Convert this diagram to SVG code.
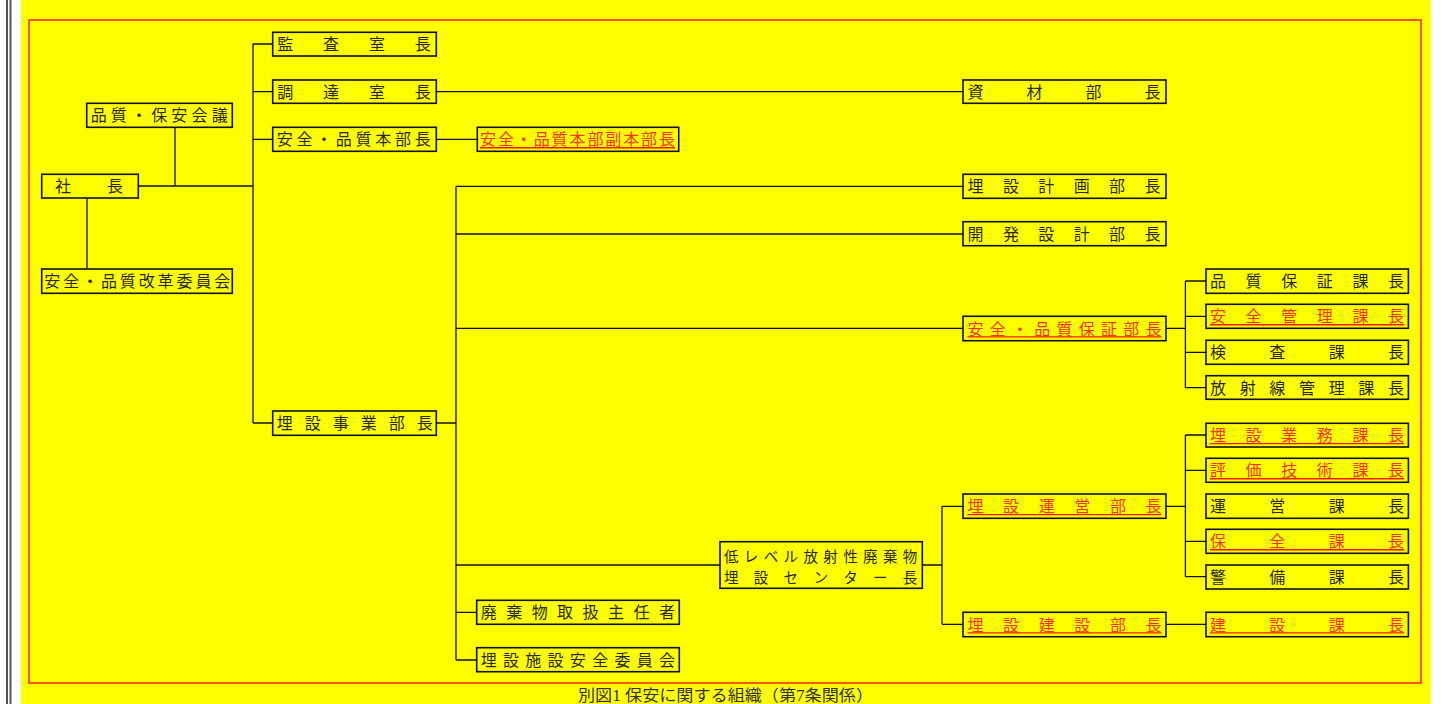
<svg xmlns="http://www.w3.org/2000/svg" width="1447" height="704" viewBox="0 0 1447 704">
<style>
.box{fill:#ffff00;stroke:#111;stroke-width:1.6}
.t{font-family:"Noto Sans CJK JP","Noto Sans CJK SC",sans-serif;font-size:16px;fill:#2a2a10}
.s{font-size:14.5px}
.r{fill:#ff3300}
.u{stroke:#ff1a00;stroke-width:1.4}
.c{stroke:#111;stroke-width:1.3;fill:none}
.cap{font-family:"Liberation Serif","Noto Sans CJK JP",serif;font-size:16px;fill:#333}
</style>
<rect x="0" y="0" width="1447" height="704" fill="#ffffff"/>
<line x1="7" y1="0" x2="7" y2="704" stroke="#555" stroke-width="2"/>
<line x1="10.5" y1="0" x2="10.5" y2="704" stroke="#555" stroke-width="2"/>
<rect x="21" y="0" width="1410" height="704" fill="#ffff00"/>
<rect x="29" y="20" width="1392" height="663" fill="none" stroke="#ff2000" stroke-width="1.5"/>

<g id="connectors">
<path class="c" d="M175,127.3V186M138.3,186H253M87,198V269"/>
<path class="c" d="M253,44V423M253,44H272.7M253,91.7H272.7M253,139.3H272.7M253,423H272.7"/>
<path class="c" d="M436.3,91.7H963M436.3,139.3H477.3M436.3,423H456"/>
<path class="c" d="M456,186.3V660M456,186.3H963M456,234H963M456,328.3H963M456,565H720M456,612.3H476.7M456,660H476.7"/>
<path class="c" d="M922.3,565H942M942,506.3V624.3M942,506.3H963M942,624.3H963"/>
<path class="c" d="M1166,328.3H1185.4M1185.4,281V387.7M1185.4,281H1206M1185.4,316.3H1206M1185.4,352.3H1206M1185.4,387.7H1206"/>
<path class="c" d="M1166,506.3H1185.4M1185.4,435V576.7M1185.4,435H1206M1185.4,470.3H1206M1185.4,541.3H1206M1185.4,576.7H1206"/>
<path class="c" d="M1166,624.3H1206"/>
</g>

<g id="n-shacho"><rect class="box" x="41.7" y="174.3" width="96.6" height="23.7"/><text class="t" x="55" y="192.2" textLength="68" lengthAdjust="spacing">社長</text></g>
<g id="n-kaigi"><rect class="box" x="86.7" y="103.3" width="145.6" height="24"/><text class="t" x="90.7" y="121.3" textLength="137" lengthAdjust="spacing">品質・保安会議</text></g>
<g id="n-kaikaku"><rect class="box" x="41.7" y="269" width="190.6" height="24.3"/><text class="t" x="44.3" y="287.2" textLength="186" lengthAdjust="spacing">安全・品質改革委員会</text></g>

<g id="n-kansa"><rect class="box" x="272.7" y="32.3" width="163.6" height="23.7"/><text class="t" x="277.3" y="50.2" textLength="153.4" lengthAdjust="spacing">監査室長</text></g>
<g id="n-chotatsu"><rect class="box" x="272.7" y="80" width="163.6" height="23.3"/><text class="t" x="277.3" y="97.7" textLength="153.4" lengthAdjust="spacing">調達室長</text></g>
<g id="n-honbu"><rect class="box" x="272.7" y="127.3" width="163.6" height="24"/><text class="t" x="276.7" y="145.3" textLength="154" lengthAdjust="spacing">安全・品質本部長</text></g>
<g id="n-fukuhonbu"><rect class="box" x="477.3" y="127.3" width="201.4" height="24"/><text class="t r" x="480" y="145.3" textLength="195" lengthAdjust="spacing">安全・品質本部副本部長</text><line class="u" x1="480" y1="147.7" x2="675" y2="147.7"/></g>
<g id="n-jigyo"><rect class="box" x="272.7" y="411" width="163.6" height="24.3"/><text class="t" x="276.7" y="429.2" textLength="156" lengthAdjust="spacing">埋設事業部長</text></g>

<g id="n-shizai"><rect class="box" x="963" y="80" width="203" height="23.3"/><text class="t" x="967.5" y="97.7" textLength="193" lengthAdjust="spacing">資材部長</text></g>
<g id="n-keikaku"><rect class="box" x="963" y="174.3" width="203" height="24"/><text class="t" x="967.5" y="192.3" textLength="193" lengthAdjust="spacing">埋設計画部長</text></g>
<g id="n-kaihatsu"><rect class="box" x="963" y="221.7" width="203" height="24"/><text class="t" x="967.5" y="239.7" textLength="193" lengthAdjust="spacing">開発設計部長</text></g>
<g id="n-hosho"><rect class="box" x="963" y="316.3" width="203" height="24.4"/><text class="t r" x="967.5" y="334.5" textLength="194" lengthAdjust="spacing">安全・品質保証部長</text><line class="u" x1="967.5" y1="336.9" x2="1161.5" y2="336.9"/></g>

<g id="n-hinshitsu"><rect class="box" x="1206" y="269" width="202.4" height="24.3"/><text class="t" x="1210" y="287.2" textLength="194" lengthAdjust="spacing">品質保証課長</text></g>
<g id="n-anzen"><rect class="box" x="1206" y="304.3" width="202.4" height="24"/><text class="t r" x="1210" y="322.3" textLength="194" lengthAdjust="spacing">安全管理課長</text><line class="u" x1="1210" y1="324.7" x2="1404" y2="324.7"/></g>
<g id="n-kensa"><rect class="box" x="1206" y="340.3" width="202.4" height="24"/><text class="t" x="1210" y="358.3" textLength="194" lengthAdjust="spacing">検査課長</text></g>
<g id="n-hoshasen"><rect class="box" x="1206" y="375.7" width="202.4" height="23.6"/><text class="t" x="1210" y="393.5" textLength="194" lengthAdjust="spacing">放射線管理課長</text></g>

<g id="n-center"><rect class="box" x="720" y="541.7" width="202.3" height="46.6"/><text class="t s"><tspan x="724" y="561.5" textLength="193.3" lengthAdjust="spacing">低レベル放射性廃棄物</tspan><tspan x="724" y="583.3" textLength="193.3" lengthAdjust="spacing">埋設センター長</tspan></text></g>
<g id="n-toriatsukai"><rect class="box" x="476.7" y="600.3" width="202.6" height="24"/><text class="t" x="480.7" y="618.3" textLength="194.3" lengthAdjust="spacing">廃棄物取扱主任者</text></g>
<g id="n-iinkai"><rect class="box" x="476.7" y="647.7" width="202.6" height="24"/><text class="t" x="480.7" y="665.7" textLength="194.3" lengthAdjust="spacing">埋設施設安全委員会</text></g>

<g id="n-unei"><rect class="box" x="963" y="494" width="203" height="24.3"/><text class="t r" x="967.5" y="512.2" textLength="194" lengthAdjust="spacing">埋設運営部長</text><line class="u" x1="967.5" y1="514.6" x2="1161.5" y2="514.6"/></g>
<g id="n-kensetsu"><rect class="box" x="963" y="612.3" width="203" height="24.4"/><text class="t r" x="967.5" y="630.5" textLength="194" lengthAdjust="spacing">埋設建設部長</text><line class="u" x1="967.5" y1="632.9" x2="1161.5" y2="632.9"/></g>

<g id="n-gyomu"><rect class="box" x="1206" y="423.3" width="202.4" height="23.7"/><text class="t r" x="1210" y="441.2" textLength="194" lengthAdjust="spacing">埋設業務課長</text><line class="u" x1="1210" y1="443.6" x2="1404" y2="443.6"/></g>
<g id="n-hyoka"><rect class="box" x="1206" y="458.3" width="202.4" height="24"/><text class="t r" x="1210" y="476.3" textLength="194" lengthAdjust="spacing">評価技術課長</text><line class="u" x1="1210" y1="478.7" x2="1404" y2="478.7"/></g>
<g id="n-uneika"><rect class="box" x="1206" y="494" width="202.4" height="24.3"/><text class="t" x="1210" y="512.2" textLength="194" lengthAdjust="spacing">運営課長</text></g>
<g id="n-hozen"><rect class="box" x="1206" y="529.3" width="202.4" height="24"/><text class="t r" x="1210" y="547.3" textLength="194" lengthAdjust="spacing">保全課長</text><line class="u" x1="1210" y1="549.7" x2="1404" y2="549.7"/></g>
<g id="n-keibi"><rect class="box" x="1206" y="565" width="202.4" height="24"/><text class="t" x="1210" y="583" textLength="194" lengthAdjust="spacing">警備課長</text></g>
<g id="n-kensetsuka"><rect class="box" x="1206" y="612.3" width="202.4" height="24.4"/><text class="t r" x="1210" y="630.5" textLength="194" lengthAdjust="spacing">建設課長</text><line class="u" x1="1210" y1="632.9" x2="1404" y2="632.9"/></g>

<text class="cap" x="578" y="701" textLength="295" lengthAdjust="spacingAndGlyphs">別図1 保安に関する組織（第7条関係）</text>
</svg>
